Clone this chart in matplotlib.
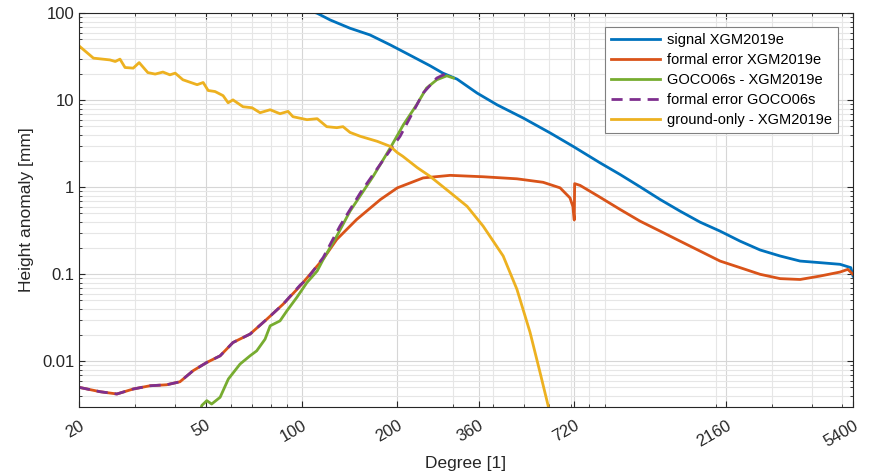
import matplotlib.pyplot as plt
from matplotlib.ticker import FixedLocator, FixedFormatter, LogLocator, NullFormatter
import numpy as np

plt.rcParams["font.family"] = ["Liberation Sans", "DejaVu Sans"]

# signal XGM2019e
sig_deg = [100, 112, 123, 142, 164, 190, 219, 253, 278, 308, 356, 411, 497, 604, 713,
           867, 1002, 1158, 1338, 1546, 1786, 2064, 2386, 2758, 3187, 3683, 4256, 4918, 5314, 5400]
sig_val = [115, 100, 83.8, 67.3, 56.4, 43.3, 33.0, 25.0, 20.5, 17.5, 12.1, 8.88, 6.25, 4.21, 2.95,
           1.905, 1.40, 1.01, 0.723, 0.531, 0.397, 0.313, 0.240, 0.190, 0.162, 0.1417, 0.1358, 0.130, 0.119, 0.0953]

# formal error XGM2019e
err_deg = [20, 23.3, 26.3, 29.6, 33.4, 37.7, 41.5, 45.6, 50.4, 55.5, 60.9, 68.9, 77.8, 87.5,
           99, 117, 129, 149, 177, 200, 241, 293, 372, 475, 574, 649, 697, 712, 719,
           721, 750, 860, 1002, 1158, 1338, 1546, 1786, 2064, 2386, 2758, 3187, 3683, 4256, 4918, 5200, 5400]
err_val = [0.00501, 0.00446, 0.0042, 0.00479, 0.00522, 0.00536, 0.0058, 0.00776, 0.00968, 0.01153,
           0.0164, 0.0205, 0.0304, 0.0452, 0.0733, 0.150, 0.251, 0.426, 0.723, 0.984, 1.28, 1.37,
           1.32, 1.25, 1.14, 0.984, 0.755, 0.60, 0.42, 1.10, 1.05, 0.78, 0.555, 0.407, 0.313, 0.240,
           0.1845, 0.1417, 0.119, 0.0998, 0.089, 0.087, 0.0953, 0.106, 0.1137, 0.0998]

# GOCO06s - XGM2019e
goco_deg = [48, 48.6, 50.4, 52.2, 55.5, 58.9, 64.1, 68.9, 72.3, 76.8, 79.7, 85.6, 89.9, 96.6,
            104, 112, 117, 129, 142, 168, 190, 209, 230, 247, 266, 286, 300]
goco_val = [0.0025, 0.0031, 0.00352, 0.00322, 0.00385, 0.00624, 0.00927, 0.01153, 0.01315, 0.0179,
            0.0255, 0.0291, 0.0378, 0.054, 0.0802, 0.109, 0.148, 0.274, 0.53, 1.34, 2.83, 5.24,
            8.88, 13.8, 17.2, 19.1, 18.0]

# formal error GOCO06s (follows XGM2019e error at low degrees)
gerr_deg = err_deg[:14] + [99, 104, 117, 132, 153, 181, 204, 241, 266, 283, 292]
gerr_val = err_val[:14] + [0.075, 0.0875, 0.156, 0.357, 0.862, 2.08, 3.85, 12.1, 18.0, 20.1, 20.7]

# ground-only - XGM2019e
gnd_deg = [20, 22.2, 25.0, 26.0, 26.9, 27.9, 29.6, 30.9, 32.9, 34.7, 36.7, 38.6, 40.1, 42.4, 47.0,
           49.1, 50.9, 53.5, 56.7, 58.8, 60.9, 65.5, 69.9, 74.1, 79.7, 85.6, 90.7, 94.0, 104, 112,
           120, 129, 135, 142, 153, 173, 190, 200, 208, 231, 253, 293, 331, 372, 430, 475, 522,
           561, 595, 620]
gnd_val = [42.2, 30.5, 29.1, 27.9, 29.7, 23.8, 23.4, 27.1, 20.8, 20.0, 21.1, 19.6, 20.5, 17.2, 15.1,
           16.0, 12.95, 12.6, 11.3, 9.36, 10.1, 8.42, 8.2, 7.19, 7.78, 7.0, 7.45, 6.47, 5.98, 6.14,
           4.97, 4.84, 4.97, 4.27, 3.85, 3.37, 2.95, 2.5, 2.27, 1.68, 1.34, 0.87, 0.605, 0.357,
           0.162, 0.067, 0.0216, 0.0075, 0.0031, 0.0015]

xticks = [20, 50, 100, 200, 360, 720, 2160, 5400]
xticklabels = ["20", "50", "100", "200", "360", "720", "2160", "5400"]
yticks = [0.01, 0.1, 1, 10, 100]
yticklabels = ["0.01", "0.1", "1", "10", "100"]

fig = plt.figure(figsize=(8.74, 4.74), dpi=100)
ax = fig.add_axes([0.0904, 0.142, 0.8856, 0.830])

lw = 2.0
ax.plot(sig_deg, sig_val, color="#0072BD", lw=lw, label="signal XGM2019e")
ax.plot(err_deg, err_val, color="#D95319", lw=lw, label="formal error XGM2019e")
ax.plot(goco_deg, goco_val, color="#77AC30", lw=lw, label="GOCO06s - XGM2019e")
ax.plot(gerr_deg, gerr_val, color="#7E2F8E", lw=lw, ls="--", dashes=(4, 2.5),
        label="formal error GOCO06s")
ax.plot(gnd_deg, gnd_val, color="#EDB120", lw=lw, label="ground-only - XGM2019e")

ax.set_xscale("log")
ax.set_yscale("log")
ax.set_xlim(20, 5400)
ax.set_ylim(0.003, 100)

ax.xaxis.set_major_locator(FixedLocator(xticks))
ax.xaxis.set_major_formatter(FixedFormatter(xticklabels))
ax.xaxis.set_minor_locator(LogLocator(base=10, subs=np.arange(2, 10)))
ax.xaxis.set_minor_formatter(NullFormatter())
ax.yaxis.set_major_locator(FixedLocator(yticks))
ax.yaxis.set_major_formatter(FixedFormatter(yticklabels))
ax.yaxis.set_minor_locator(LogLocator(base=10, subs=np.arange(2, 10)))
ax.yaxis.set_minor_formatter(NullFormatter())

ax.grid(True, which="major", color="#d6d6d6", lw=0.8)
ax.grid(True, which="minor", color="#e6e6e6", lw=0.8)
ax.set_axisbelow(True)

for s in ax.spines.values():
    s.set_color("#262626")
    s.set_linewidth(0.8)
ax.tick_params(which="both", direction="in", top=True, right=True, colors="#262626",
               labelsize=12)
ax.tick_params(which="major", length=4.5, width=0.8)
ax.tick_params(which="minor", length=2.5, width=0.6)
for lab in ax.get_xticklabels():
    lab.set_rotation(30)
    lab.set_ha("right")
    lab.set_va("top")
    lab.set_rotation_mode("anchor")
ax.tick_params(axis="x", pad=8)

ax.set_xlabel("Degree [1]", fontsize=12.5, color="#262626", labelpad=5)
ax.set_ylabel("Height anomaly [mm]", fontsize=12.5, color="#262626", labelpad=6)

leg = ax.legend(loc="upper right", bbox_to_anchor=(0.981, 0.965), borderaxespad=0,
                fontsize=10.5, handlelength=3.4, labelspacing=0.42, fancybox=False,
                framealpha=1, edgecolor="#808080", borderpad=0.4, handletextpad=0.5)
leg.get_frame().set_linewidth(0.8)

fig.savefig("out.png", dpi=100)
